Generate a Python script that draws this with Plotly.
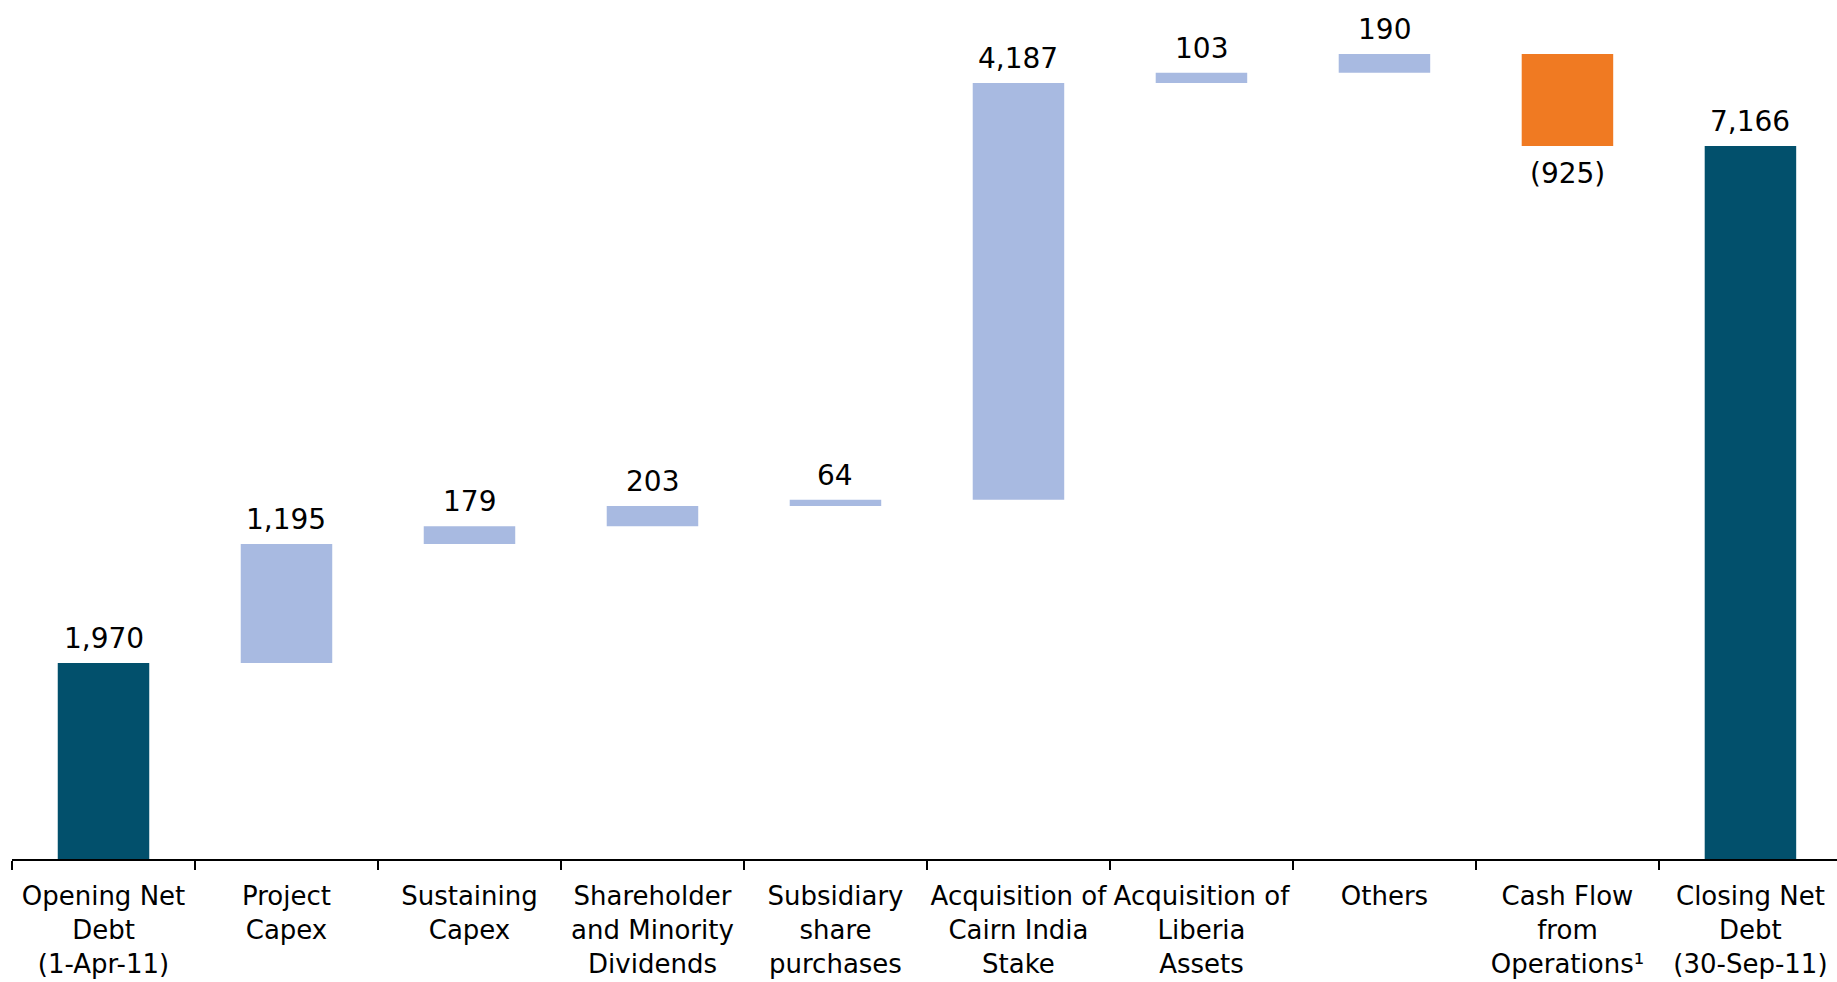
import plotly.graph_objects as go

categories = [
    "Opening Net<br>Debt<br>(1-Apr-11)",
    "Project<br>Capex",
    "Sustaining<br>Capex",
    "Shareholder<br>and Minority<br>Dividends",
    "Subsidiary<br>share<br>purchases",
    "Acquisition of<br>Cairn India<br>Stake",
    "Acquisition of<br>Liberia<br>Assets",
    "Others",
    "Cash Flow<br>from<br>Operations¹",
    "Closing Net<br>Debt<br>(30-Sep-11)",
]
values = [1970, 1195, 179, 203, 64, 4187, 103, 190, -925, 7166]
measures = ["absolute"] + ["relative"] * 8 + ["total"]
labels = ["1,970", "1,195", "179", "203", "64", "4,187", "103", "190", "(925)", "7,166"]

DARK = "#02506C"
LIGHT = "#A8BAE1"
ORANGE = "#F07A22"
FONT = "DejaVu Sans"

fig = go.Figure(go.Waterfall(
    x=categories,
    y=values,
    measure=measures,
    width=0.5,
    connector=dict(visible=False),
    increasing=dict(marker=dict(color=LIGHT)),
    decreasing=dict(marker=dict(color=ORANGE)),
    totals=dict(marker=dict(color=DARK)),
    textposition="none",
    hoverinfo="skip",
))

# label positions from running totals
running = 0
for cat, v, m, lab in zip(categories, values, measures, labels):
    if m == "absolute":
        running = v
        top = v
    elif m == "total":
        top = running
    else:
        running += v
        top = running
    if v >= 0 or m != "relative":
        fig.add_annotation(x=cat, y=top, text=lab, showarrow=False, yanchor="bottom",
                           yshift=6, font=dict(family=FONT, size=28, color="black"))
    else:
        fig.add_annotation(x=cat, y=top, text=lab, showarrow=False, yanchor="top",
                           yshift=-9, font=dict(family=FONT, size=28, color="black"))

fig.update_layout(
    width=1837, height=982,
    margin=dict(l=12, r=0, t=0, b=123),
    plot_bgcolor="white", paper_bgcolor="white",
    showlegend=False,
    font=dict(family=FONT, size=26, color="black"),
)
fig.update_xaxes(
    type="category",
    range=[-0.5, 9.473], showline=True, linecolor="black", linewidth=2,
    ticks="outside", ticklen=9, tickwidth=2, tickcolor="black",
    tickson="boundaries", tickangle=0, automargin=False,
    showgrid=False, zeroline=False,
    ticklabelstandoff=13,
    tickfont=dict(family=FONT, size=26, color="black"),
)
fig.update_yaxes(range=[0, 8633], visible=False, showgrid=False, zeroline=False)

fig.write_html("out.html")
